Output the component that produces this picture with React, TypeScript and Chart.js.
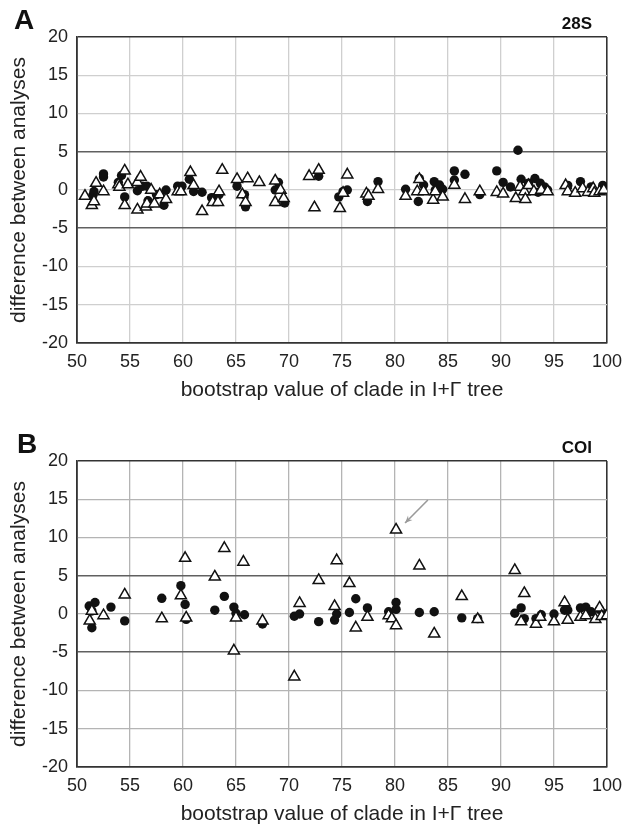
import React, { useEffect, useRef } from 'react';
import { Chart, registerables } from 'chart.js';

Chart.register(...registerables);

// ---------- data ----------
const xTickValues = [50, 55, 60, 65, 70, 75, 80, 85, 90, 95, 100];
const yTickValues = [-20, -15, -10, -5, 0, 5, 10, 15, 20];

// Panel A (28S): open triangles
const s28Triangles: [number, number][] = [
  [50.75, -0.8], [51.4, -2.0], [51.6, -1.5], [51.8, 0.9], [52.5, -0.2], [53.9, 0.7], [54.0, 0.4],
  [54.5, 2.5], [54.5, -2.0], [54.8, 0.7], [55.7, -2.6], [55.7, 1.0], [56.0, 1.7], [56.5, -2.2],
  [56.6, -1.8], [57.0, 0.0], [57.3, -1.8], [57.8, -0.6], [58.4, -1.2], [59.5, -0.2], [59.8, -0.2],
  [60.7, 2.3], [61.0, 0.6], [61.8, -2.8], [62.8, -1.6], [63.3, -1.6], [63.4, -0.2], [63.7, 2.6],
  [65.1, 1.4], [65.6, -0.6], [65.9, -1.6], [66.1, 1.5], [67.2, 1.0], [68.7, 1.2], [68.7, -1.6],
  [69.2, 0.0], [69.5, -1.1], [71.9, 1.8], [72.8, 2.6], [72.4, -2.3], [74.8, -2.4], [75.5, 2.0],
  [75.1, -0.4], [77.3, -0.5], [77.5, -0.8], [78.4, 0.1], [81.0, -0.8], [82.1, -0.2], [82.3, 1.4],
  [82.7, -0.2], [83.6, -1.3], [83.8, -0.2], [84.5, -0.9], [85.6, 0.65], [86.6, -1.2], [88.0, -0.2],
  [89.6, -0.3], [90.2, -0.5], [91.4, -1.1], [91.8, 0.4], [92.2, -0.2], [92.3, -1.2], [92.6, 0.6],
  [93.1, -0.2], [93.8, 0.0], [94.4, -0.2], [96.1, 0.6], [96.3, -0.2], [97.0, -0.4], [97.7, 0.2],
  [98.2, -0.3], [98.7, 0.2], [98.8, -0.4], [99.3, -0.2], [99.7, 0.0],
];

// Panel A (28S): filled circles
const s28Circles: [number, number][] = [
  [51.5, -0.7], [51.6, -0.2], [52.5, 1.7], [52.5, 2.1], [53.9, 1.0], [54.2, 1.9], [54.5, -0.9],
  [55.7, -0.1], [56.2, 0.5], [56.6, 0.5], [56.7, -1.4], [57.5, -0.6], [58.2, -2.0], [58.4, 0.0],
  [59.5, 0.5], [59.9, 0.5], [60.6, 1.4], [61.0, -0.2], [61.8, -0.3], [62.7, -1.0], [63.0, -1.0],
  [63.4, -0.6], [65.1, 0.5], [65.8, -0.6], [65.9, -2.2], [68.7, 0.0], [69.0, 1.0], [69.6, -1.7],
  [72.8, 1.8], [74.7, -0.9], [75.1, -0.2], [75.5, 0.0], [77.4, -1.5], [78.4, 1.1], [81.0, 0.1],
  [82.2, -1.5], [82.3, 1.5], [82.7, 0.65], [83.7, 1.1], [83.8, 0.0], [84.2, 0.65], [84.5, 0.1],
  [85.6, 1.3], [85.6, 2.5], [86.6, 2.05], [88.0, -0.6], [89.6, 2.5], [90.2, 1.0], [90.9, 0.4],
  [91.6, 5.2], [91.9, 1.4], [92.6, 0.9], [93.2, 1.5], [93.7, 0.9], [93.5, -0.3], [94.1, 0.4],
  [94.4, 0.0], [96.3, 0.6], [97.5, 1.1], [98.5, 0.4], [98.8, -0.2], [99.6, 0.6], [100, 0.0],
];

// Panel B (COI): open triangles
const coiTriangles: [number, number][] = [
  [51.2, -0.9], [51.4, 0.4], [52.5, -0.2], [54.5, 2.5], [58.0, -0.6], [59.8, 2.4], [60.2, 7.3],
  [60.3, -0.5], [63.0, 4.85], [63.9, 8.6], [64.8, -4.8], [65.0, -0.5], [65.7, 6.8], [67.5, -0.9],
  [70.5, -8.2], [71.0, 1.4], [72.8, 4.4], [74.3, 1.0], [74.5, 7.0], [75.7, 4.0], [76.3, -1.8],
  [77.4, -0.4], [79.4, -0.2], [79.7, -0.6], [80.1, -1.5], [80.1, 11.0], [82.3, 6.3], [83.7, -2.6],
  [86.3, 2.3], [87.8, -0.7], [91.3, 5.7], [91.9, -1.0], [92.2, 2.7], [93.3, -1.3], [93.7, -0.4],
  [95.0, -1.0], [96.0, 1.5], [96.3, -0.8], [97.5, -0.4], [98.0, -0.2], [98.9, -0.7], [99.3, 0.8],
  [99.5, -0.3], [100, -0.2],
];

// Panel B (COI): filled circles
const coiCircles: [number, number][] = [
  [51.15, 1.05], [51.4, 0.4], [51.4, -1.8], [51.7, 1.5], [53.2, 0.9], [54.5, -0.9], [58.0, 2.05],
  [59.8, 3.7], [60.2, 1.25], [60.3, -0.7], [63.0, 0.5], [63.9, 2.3], [64.8, 0.9], [65.0, 0.1],
  [65.8, -0.1], [67.5, -1.3], [70.5, -0.3], [71.0, 0.0], [72.8, -1.0], [74.3, -0.8], [74.5, 0.0],
  [75.7, 0.2], [76.3, 2.0], [77.4, 0.8], [79.4, 0.3], [80.1, 1.5], [80.1, 0.6], [82.3, 0.2],
  [83.7, 0.3], [86.3, -0.5], [87.8, -0.6], [91.3, 0.1], [91.9, 0.8], [92.2, -0.6], [93.3, -0.6],
  [93.8, -0.1], [95.0, 0.0], [96.0, 0.5], [96.3, 0.5], [97.5, 0.8], [98.0, 0.9], [98.5, 0.3],
  [99.3, 0.6], [99.7, 0.0], [100, 0.0],
];

// arrow in panel B pointing at the outlier triangle (tail -> tip, data coords)
const coiArrowTail: [number, number] = [83.1, 14.9];
const coiArrowTip: [number, number] = [80.95, 11.9];

const xTitle = 'bootstrap value of clade in I+\u0393 tree';
const yTitle = 'difference between analyses';

const FONT = "'Liberation Sans', Arial, Helvetica, sans-serif";

const toPts = (arr: [number, number][]) => arr.map(([x, y]) => ({ x, y }));

type PanelProps = {
  triangles: [number, number][];
  circles: [number, number][];
  arrow?: { tail: [number, number]; tip: [number, number] } | null;
  gridLight: string;
};

const W = 630;
const H = 414;

function Panel({ triangles, circles, arrow, gridLight }: PanelProps) {
  const ref = useRef<HTMLCanvasElement | null>(null);
  useEffect(() => {
    if (!ref.current) return;
    const arrowPlugin = {
      id: 'arrowPlugin',
      afterDatasetsDraw(chart: any) {
        if (!arrow) return;
        const xs = chart.scales.x;
        const ys = chart.scales.y;
        const x1 = xs.getPixelForValue(arrow.tail[0]);
        const y1 = ys.getPixelForValue(arrow.tail[1]);
        const x2 = xs.getPixelForValue(arrow.tip[0]);
        const y2 = ys.getPixelForValue(arrow.tip[1]);
        const ctx = chart.ctx;
        ctx.save();
        ctx.strokeStyle = '#9a9a9a';
        ctx.fillStyle = '#9a9a9a';
        ctx.lineWidth = 1.6;
        ctx.beginPath();
        ctx.moveTo(x1, y1);
        ctx.lineTo(x2, y2);
        ctx.stroke();
        const ang = Math.atan2(y2 - y1, x2 - x1);
        const len = 8;
        ctx.beginPath();
        ctx.moveTo(x2, y2);
        ctx.lineTo(x2 - len * Math.cos(ang - 0.4), y2 - len * Math.sin(ang - 0.4));
        ctx.lineTo(x2 - len * 0.6 * Math.cos(ang), y2 - len * 0.6 * Math.sin(ang));
        ctx.lineTo(x2 - len * Math.cos(ang + 0.4), y2 - len * Math.sin(ang + 0.4));
        ctx.closePath();
        ctx.fill();
        ctx.restore();
      },
    };

    const chart = new Chart(ref.current, {
      type: 'scatter',
      data: {
        datasets: [
          {
            label: 'triangles',
            data: toPts(triangles),
            pointStyle: 'triangle',
            pointRadius: 6.4,
            pointBackgroundColor: '#ffffff',
            pointBorderColor: '#111111',
            pointBorderWidth: 1.5,
            showLine: false,
          },
          {
            label: 'circles',
            data: toPts(circles),
            pointStyle: 'circle',
            pointRadius: 4.7,
            pointBackgroundColor: '#111111',
            pointBorderColor: '#111111',
            pointBorderWidth: 0,
            showLine: false,
          },
        ],
      },
      options: {
        animation: false,
        responsive: false,
        events: [],
        layout: { padding: { left: 0, top: 37, right: 20, bottom: 0 } },
        plugins: { legend: { display: false }, tooltip: { enabled: false } },
        scales: {
          x: {
            type: 'linear',
            min: 50,
            max: 100,
            afterBuildTicks: (scale: any) => {
              scale.ticks = xTickValues.map((v) => ({ value: v }));
            },
            afterFit: (scale: any) => {
              scale.height = H - 343;
            },
            grid: {
              drawTicks: false,
              color: (c: any) => (c.tick && (c.tick.value === 100 || c.tick.value === 50) ? '#333333' : gridLight),
              lineWidth: (c: any) => (c.tick && (c.tick.value === 100 || c.tick.value === 50) ? 1.6 : 1.3),
            },
            border: { display: true, color: '#333333', width: 1.6 },
            ticks: {
              padding: 8,
              color: '#222222',
              font: { family: FONT, size: 18 },
              maxRotation: 0,
              autoSkip: false,
            },
            title: {
              display: true,
              text: xTitle,
              color: '#222222',
              font: { family: FONT, size: 21 },
              padding: { top: 0, bottom: 11 },
            },
          },
          y: {
            type: 'linear',
            min: -20,
            max: 20,
            afterBuildTicks: (scale: any) => {
              scale.ticks = yTickValues.map((v) => ({ value: v }));
            },
            afterFit: (scale: any) => {
              scale.width = 77;
            },
            grid: {
              drawTicks: false,
              color: (c: any) => {
                const v = c.tick ? c.tick.value : 0;
                if (v === 20 || v === -20) return '#333333';
                if (v === 5 || v === -5) return '#606060';
                return gridLight;
              },
              lineWidth: (c: any) => {
                const v = c.tick ? c.tick.value : 0;
                if (v === 20 || v === -20 || v === 5 || v === -5) return 1.6;
                return 1.3;
              },
            },
            border: { display: true, color: '#333333', width: 1.6 },
            ticks: {
              padding: 9,
              color: '#222222',
              font: { family: FONT, size: 18 },
              autoSkip: false,
            },
            title: {
              display: true,
              text: yTitle,
              color: '#222222',
              font: { family: FONT, size: 21 },
              padding: { top: 7, bottom: 0 },
            },
          },
        },
      },
      plugins: [arrowPlugin],
    } as any);
    return () => chart.destroy();
  }, [triangles, circles, arrow, gridLight]);

  return <canvas ref={ref} width={W} height={H} style={{ display: 'block', width: W, height: H }} />;
}

const letterStyle: React.CSSProperties = {
  position: 'absolute',
  fontFamily: FONT,
  fontWeight: 'bold',
  fontSize: 28,
  lineHeight: '28px',
  color: '#111',
};

const geneStyle: React.CSSProperties = {
  position: 'absolute',
  fontFamily: FONT,
  fontWeight: 'bold',
  fontSize: 17,
  lineHeight: '17px',
  color: '#111',
  textAlign: 'right',
};

export default function App() {
  return (
    <div style={{ position: 'absolute', left: 0, top: 0, width: W, height: 828, background: '#fff', overflow: 'hidden' }}>
      <div style={{ position: 'absolute', left: 0, top: 0 }}>
        <Panel triangles={s28Triangles} circles={s28Circles} arrow={null} gridLight="#cfcfcf" />
      </div>
      <div style={{ position: 'absolute', left: 0, top: 424 }}>
        <Panel
          triangles={coiTriangles}
          circles={coiCircles}
          arrow={{ tail: coiArrowTail, tip: coiArrowTip }}
          gridLight="#b4b4b4"
        />
      </div>
      <div style={{ ...letterStyle, left: 14, top: 6 }}>A</div>
      <div style={{ ...letterStyle, left: 17, top: 430 }}>B</div>
      <div style={{ ...geneStyle, right: 38, top: 15 }}>28S</div>
      <div style={{ ...geneStyle, right: 38, top: 439 }}>COI</div>
    </div>
  );
}
